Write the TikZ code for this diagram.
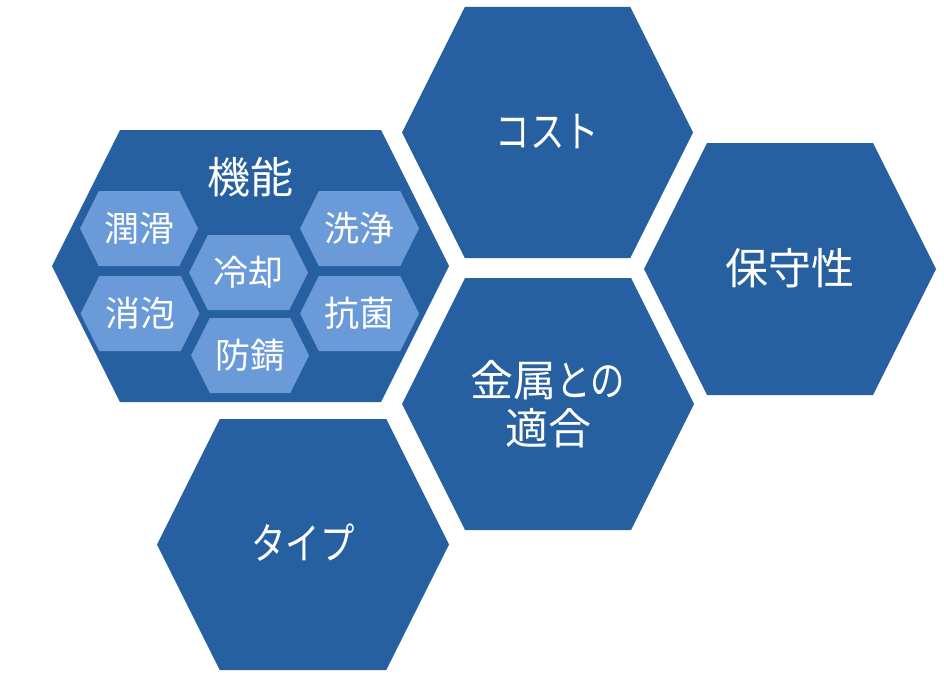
\documentclass[tikz,border=0pt]{standalone}
\usepackage{fontspec}
\newfontfamily\jp{Noto Sans CJK JP}
\newfontfamily\jpkana[FakeStretch=0.8]{Noto Sans CJK JP}
\definecolor{hexdark}{HTML}{2660A0}
\definecolor{hexlight}{HTML}{6A9AD8}
\newcommand\hexshape[5]{% style, cx, cy, w, h
  \fill[#1] ({#2-#4/2},#3) -- ({#2-#4/2+#5/4},{#3-#5/2}) -- ({#2+#4/2-#5/4},{#3-#5/2})
    -- ({#2+#4/2},#3) -- ({#2+#4/2-#5/4},{#3+#5/2}) -- ({#2-#4/2+#5/4},{#3+#5/2}) -- cycle;}
\tikzset{
  bighex/.style={hexdark},
  smallhex/.style={hexlight},
  biglabel/.style={text=white, font=\jp\fontsize{43}{48}\selectfont, align=center, inner sep=0pt},
  smalllabel/.style={text=white, font=\jp\fontsize{35}{40}\selectfont, inner sep=0pt},
}
\begin{document}
\begin{tikzpicture}[x=1pt,y=-1pt]
\useasboundingbox (0,0) rectangle (944,682);
% big hexagons
\hexshape{bighex}{547.5}{132.5}{291}{251}
\hexshape{bighex}{790}{269}{292}{252}
\hexshape{bighex}{548}{404}{292}{252}
\hexshape{bighex}{303}{544.5}{292}{251}
\hexshape{bighex}{250.5}{266}{397}{272}
% small hexagons
\hexshape{smallhex}{139}{228.5}{118}{75}
\hexshape{smallhex}{248.5}{272.5}{119}{75}
\hexshape{smallhex}{359.5}{228.5}{119}{75}
\hexshape{smallhex}{140}{313.5}{119}{75}
\hexshape{smallhex}{250}{355.5}{118}{75}
\hexshape{smallhex}{359.5}{313.5}{119}{75}
% labels
\node[biglabel] (cost) at (547.5,132) {\jpkana コスト};
\node[biglabel] (hoshu) at (790,268) {保守性};
\node[biglabel] (kinzoku) at (548,404) {金属{\jpkana との}\\適合};
\node[biglabel] (type) at (303,543) {\jpkana タイプ};
\node[biglabel] (kino) at (250.5,177) {機能};
\node[smalllabel] (junkatsu) at (139,228.5) {潤滑};
\node[smalllabel] (reikyaku) at (248.5,272.5) {冷却};
\node[smalllabel] (senjo) at (359.5,228.5) {洗浄};
\node[smalllabel] (shoho) at (140,313.5) {消泡};
\node[smalllabel] (boshu) at (250,355.5) {防錆};
\node[smalllabel] (kokin) at (359.5,313.5) {抗菌};
\end{tikzpicture}
\end{document}
